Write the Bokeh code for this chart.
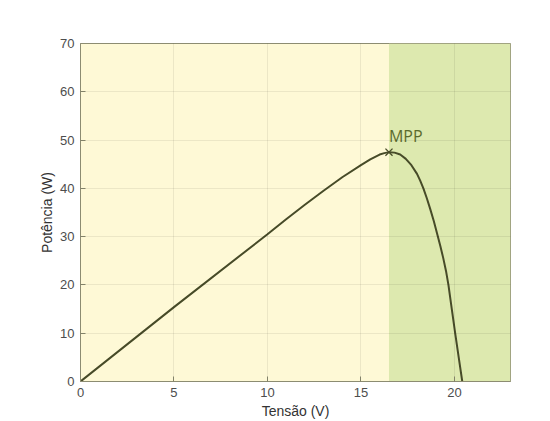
from bokeh.plotting import figure
from bokeh.models import Range1d, FixedTicker
from bokeh.core.properties import value
from bokeh.embed import file_html
from bokeh.resources import INLINE

# Data (P-V curve of a PV module)
voltage = [0, 5, 10, 11, 12, 13, 14, 15, 15.5, 16, 16.25, 16.5, 16.8, 17.1, 17.4, 17.7,
           18.0, 18.17, 18.34, 18.52, 18.7, 18.9, 19.09, 19.25, 19.4, 19.55, 19.68, 19.86, 20.04, 20.23, 20.42]
power = [0, 15.4, 30.5, 33.6, 36.6, 39.5, 42.3, 44.8, 46.0, 47.0, 47.3, 47.5, 47.4, 47.0, 46.1, 44.8,
         43.0, 41.6, 40.0, 38.0, 35.8, 33.2, 30.4, 28.0, 25.6, 22.9, 20.0, 15.0, 10.0, 5.0, 0]
mpp_v = [16.5]
mpp_p = [47.5]
mpp_label = ["MPP"]
x_ticks = [0, 5, 10, 15, 20]
y_ticks = [0, 10, 20, 30, 40, 50, 60, 70]
x_max = 23
y_max = 70

p = figure(width=540, height=421, output_backend="svg", toolbar_location=None,
           x_range=Range1d(0, x_max), y_range=Range1d(0, y_max),
           min_border_left=80, min_border_right=30, min_border_top=43, min_border_bottom=39)

p.background_fill_color = "#FEF9D6"
p.border_fill_color = "white"
p.outline_line_color = "#8C8C72"
p.outline_line_width = 1

# green region right of MPP
p.quad(left=mpp_v, right=[x_max], bottom=[0], top=[y_max],
       fill_color="#DDE9AF", line_color=None)

p.line(voltage, power, line_color="#474B28", line_width=2)
p.scatter(mpp_v, mpp_p, marker="x", size=10, line_color="#474B28", line_width=1.3)
p.text(mpp_v, mpp_p, text=mpp_label, x_offset=0, y_offset=-5,
       text_baseline="bottom", text_align="left",
       text_font=value("Open Sans"), text_font_size="16px", text_color="#5C6B2D")

for g in (p.xgrid, p.ygrid):
    g.grid_line_color = "#000000"
    g.grid_line_alpha = 0.07
    g.level = "overlay"

p.xaxis.ticker = FixedTicker(ticks=x_ticks)
p.yaxis.ticker = FixedTicker(ticks=y_ticks)
for ax in (p.xaxis, p.yaxis):
    ax.axis_line_color = "#8C8C72"
    ax.major_tick_line_color = "#8C8C72"
    ax.major_tick_in = 5
    ax.major_tick_out = 0
    ax.minor_tick_line_color = None
    ax.major_label_text_font = "Liberation Sans"
    ax.major_label_text_font_size = "13px"
    ax.major_label_text_color = "#4D4D4D"
    ax.axis_label_text_font = "Liberation Sans"
    ax.axis_label_text_font_size = "14px"
    ax.axis_label_text_font_style = "normal"
    ax.axis_label_text_color = "#333333"

p.xaxis.axis_label = "Tensão (V)"
p.yaxis.axis_label = "Potência (W)"
p.xaxis.major_label_standoff = 6
p.xaxis.axis_label_standoff = 3
p.yaxis.major_label_standoff = 6
p.yaxis.axis_label_standoff = 2

open("out.html", "w").write(file_html(p, INLINE))
